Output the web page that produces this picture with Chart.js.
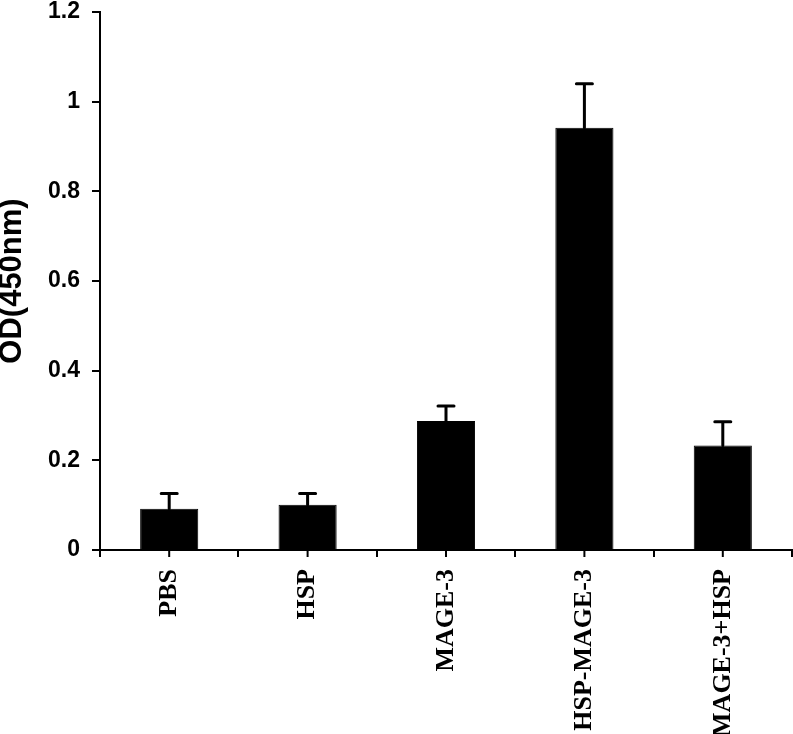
<!DOCTYPE html>
<html>
<head>
<meta charset="utf-8">
<script src="https://cdn.jsdelivr.net/npm/chart.js@4/dist/chart.umd.min.js"></script>
<style>
  body { margin: 0; background: #fff; }
  canvas { display: block; }
</style>
</head>
<body>
<canvas id="odChart" width="793" height="734"></canvas>
<script>
// groups and measured values
const groups = ['PBS', 'HSP', 'MAGE-3', 'HSP-MAGE-3', 'MAGE-3+HSP'];
const odValues = [0.092, 0.101, 0.288, 0.942, 0.233];
const odErrors = [0.034, 0.025, 0.033, 0.098, 0.053];
const yTickLabels = ['0', '0.2', '0.4', '0.6', '0.8', '1', '1.2'];

// draws the error bars and the small ticks under each bar
const errorBars = {
  id: 'errorBars',
  afterDatasetsDraw(chart) {
    const ctx = chart.ctx;
    const x = chart.scales.x;
    const y = chart.scales.y;
    ctx.save();
    ctx.strokeStyle = '#000';
    odValues.forEach((v, i) => {
      const px = x.getPixelForValue(i);
      const top = y.getPixelForValue(v + odErrors[i]);
      const base = y.getPixelForValue(v);
      ctx.lineWidth = 3;
      ctx.lineCap = 'round';
      ctx.beginPath();
      ctx.moveTo(px, base);
      ctx.lineTo(px, top);
      ctx.moveTo(px - 8, top);
      ctx.lineTo(px + 8, top);
      ctx.stroke();

      ctx.lineWidth = 2;
      ctx.lineCap = 'butt';
      ctx.beginPath();
      ctx.moveTo(px, y.bottom);
      ctx.lineTo(px, y.bottom + 7);
      ctx.stroke();
    });
    ctx.restore();
  }
};

new Chart(document.getElementById('odChart'), {
  type: 'bar',
  data: {
    labels: groups,
    datasets: [{
      data: odValues,
      backgroundColor: '#000',
      borderColor: '#000',
      borderWidth: 1,
      categoryPercentage: 1,
      barPercentage: 0.42
    }]
  },
  options: {
    responsive: false,
    animation: false,
    layout: { padding: { top: 0, right: 1, left: 0, bottom: 0 } },
    plugins: {
      legend: { display: false },
      tooltip: { enabled: false }
    },
    scales: {
      x: {
        afterFit: (s) => { s.height = 184; },
        grid: {
          display: true,
          drawOnChartArea: false,
          offset: true,
          tickLength: 7,
          color: '#000',
          lineWidth: 2
        },
        border: { display: true, color: '#000', width: 2 },
        ticks: {
          color: '#000',
          minRotation: 90,
          maxRotation: 90,
          padding: 12,
          font: { family: 'Liberation Serif', weight: 'bold', size: 26 }
        }
      },
      y: {
        min: 0,
        max: 1.2,
        afterFit: (s) => { s.width = 100; s.paddingTop = 12; s.paddingBottom = 0; },
        grid: {
          drawOnChartArea: false,
          tickLength: 8,
          color: '#000',
          lineWidth: 2
        },
        border: { display: true, color: '#000', width: 2 },
        ticks: {
          stepSize: 0.2,
          color: '#000',
          padding: 12,
          font: { family: 'Liberation Sans', weight: 'bold', size: 23 },
          callback: (v, i) => yTickLabels[i]
        },
        title: {
          display: true,
          text: 'OD(450nm)',
          color: '#000',
          padding: 0,
          font: { family: 'Liberation Sans', weight: 'bold', size: 31, lineHeight: 0.8 }
        }
      }
    }
  },
  plugins: [errorBars]
});
</script>
</body>
</html>
